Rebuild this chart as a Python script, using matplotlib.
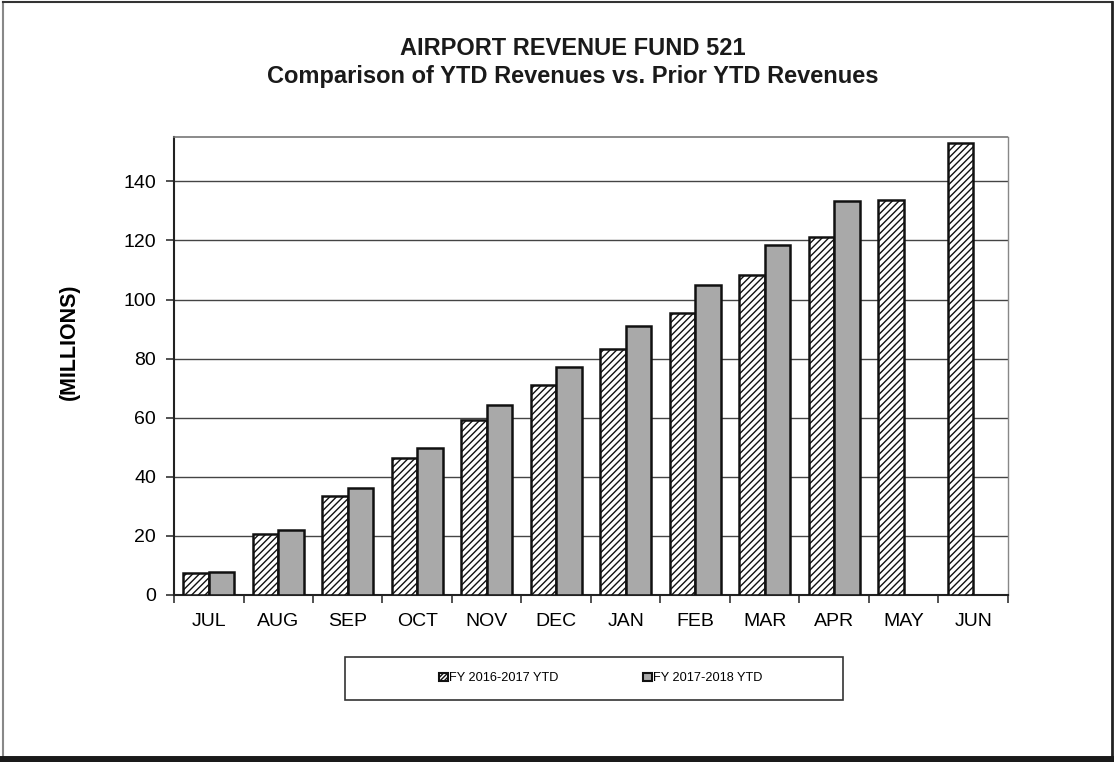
import numpy as np
import matplotlib.pyplot as plt
from matplotlib.patches import Rectangle, Patch
from matplotlib.lines import Line2D

plt.rcParams['font.family'] = ['Liberation Sans', 'DejaVu Sans']
plt.rcParams['hatch.linewidth'] = 1.0

months = ['JUL', 'AUG', 'SEP', 'OCT', 'NOV', 'DEC', 'JAN', 'FEB', 'MAR', 'APR', 'MAY', 'JUN']
fy_2016_2017 = [7.3, 20.5, 33.5, 46.3, 59.3, 71.1, 83.2, 95.5, 108.3, 121.2, 133.8, 153.0]
fy_2017_2018 = [7.8, 22.0, 36.2, 49.8, 64.3, 77.2, 91.1, 105.0, 118.4, 133.4]
series_names = ['FY 2016-2017 YTD', 'FY 2017-2018 YTD']
y_ticks = [0, 20, 40, 60, 80, 100, 120, 140]

fig = plt.figure(figsize=(11.14, 7.62), dpi=100)
ax = fig.add_axes([0.1562, 0.2192, 0.7486, 0.6010])

x = np.arange(len(months))
w = 0.367
ax.bar(x - w / 2, fy_2016_2017, width=w, color='white', edgecolor='#111111',
       hatch='/////', linewidth=1.8, zorder=3)
x2 = np.arange(len(fy_2017_2018))
ax.bar(x2 + w / 2, fy_2017_2018, width=w, color='#a9a9a9', edgecolor='#111111',
       linewidth=1.8, zorder=3)

ax.set_xlim(-0.5, len(months) - 0.5)
ax.set_ylim(0, 155)
ax.set_yticks(y_ticks)
ax.set_yticklabels([str(t) for t in y_ticks], fontsize=14)
ax.yaxis.grid(True, color='#444444', linewidth=1.0, zorder=0)
ax.tick_params(axis='y', direction='out', length=6, width=1.2, pad=7, color='#333333')

# month labels centred, tick marks between the categories
ax.set_xticks(x)
ax.set_xticklabels(months, fontsize=14)
ax.set_xticks(np.arange(-0.5, len(months), 1.0), minor=True)
ax.tick_params(axis='x', which='major', length=0, pad=13)
ax.tick_params(axis='x', which='minor', direction='out', length=6, width=1.2, color='#333333')

for side in ['left', 'bottom']:
    ax.spines[side].set_color('#222222')
    ax.spines[side].set_linewidth(1.5)
ax.spines['top'].set_color('#777777')
ax.spines['top'].set_linestyle((0, (2, 1)))
ax.spines['top'].set_linewidth(1.2)
ax.spines['right'].set_color('#888888')
ax.spines['right'].set_linewidth(1.0)

ax.set_ylabel('(MILLIONS)', fontsize=15.5, fontweight='bold')
ax.yaxis.set_label_coords(-0.113, 0.553)

fig.text(0.5145, 0.937, 'AIRPORT REVENUE FUND 521', ha='center', va='center',
         fontsize=17, fontweight='bold', color='#1a1a1a')
fig.text(0.5145, 0.899, 'Comparison of YTD Revenues vs. Prior YTD Revenues', ha='center',
         va='center', fontsize=17, fontweight='bold', color='#1a1a1a')

# legend box below the plot
fig.patches.append(Rectangle((345 / 1114, 1 - 700 / 762), 498 / 1114, 43 / 762,
                             transform=fig.transFigure, fill=False,
                             edgecolor='#333333', linewidth=1.2))
handles = [Patch(facecolor='white', edgecolor='#111111', hatch='////////', linewidth=1.5),
           Patch(facecolor='#a9a9a9', edgecolor='#111111', linewidth=1.5)]
fig.legend(handles, series_names, loc='center', bbox_to_anchor=(0.5390, 0.1096), ncol=2,
           frameon=False, fontsize=9.2, handlelength=0.7, handleheight=0.7,
           handletextpad=0.1, columnspacing=6.6)

# page frame
fig.add_artist(Line2D([0.003, 0.003], [0.004, 0.997], transform=fig.transFigure,
                      color='#888888', linewidth=1.5))
fig.add_artist(Line2D([0.003, 0.998], [0.997, 0.997], transform=fig.transFigure,
                      color='#333333', linewidth=1.5))
fig.add_artist(Line2D([0.998, 0.998], [0.004, 0.997], transform=fig.transFigure,
                      color='#222222', linewidth=2.0))
fig.add_artist(Line2D([0.0, 1.0], [0.004, 0.004], transform=fig.transFigure,
                      color='#1a1a1a', linewidth=5.0))

fig.savefig('out.png', dpi=100)
